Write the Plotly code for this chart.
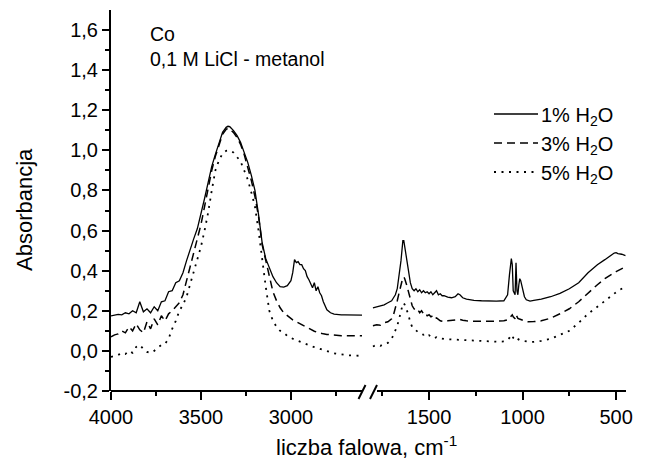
import plotly.graph_objects as go

# ---------------- data ----------------
wn_left = [4000, 3980, 3960, 3940, 3920, 3900, 3880, 3860, 3840, 3820, 3800, 3780, 3760, 3740,
           3720, 3700, 3680, 3660, 3640, 3620, 3600, 3580, 3560, 3540, 3520, 3500, 3480, 3460,
           3440, 3420, 3400, 3380, 3360, 3350, 3340, 3320, 3300, 3280, 3260, 3240, 3220, 3200,
           3180, 3160, 3140, 3120, 3100, 3080, 3060, 3040, 3020, 3000, 2990, 2980, 2970, 2960,
           2950, 2940, 2930, 2920, 2910, 2900, 2890, 2880, 2870, 2860, 2850, 2840, 2830, 2820,
           2800, 2780, 2760, 2740, 2720, 2700, 2680, 2660, 2640, 2620, 2600]

abs1_left = [0.175, 0.178, 0.182, 0.180, 0.190, 0.185, 0.200, 0.190, 0.245, 0.195, 0.210, 0.190, 0.220, 0.200,
             0.245, 0.250, 0.295, 0.300, 0.340, 0.350, 0.390, 0.450, 0.510, 0.560, 0.610, 0.680, 0.760, 0.840,
             0.920, 0.980, 1.040, 1.090, 1.115, 1.120, 1.118, 1.100, 1.075, 1.040, 0.990, 0.940, 0.875, 0.800,
             0.680, 0.540, 0.460, 0.410, 0.370, 0.340, 0.320, 0.318, 0.325, 0.350, 0.390, 0.455, 0.440, 0.445,
             0.430, 0.430, 0.410, 0.400, 0.370, 0.355, 0.335, 0.315, 0.340, 0.300, 0.320, 0.290, 0.275, 0.245,
             0.205, 0.190, 0.183, 0.180, 0.180, 0.180, 0.179, 0.178, 0.178, 0.178, 0.178]

abs3_left = [0.070, 0.080, 0.085, 0.100, 0.090, 0.120, 0.100, 0.135, 0.105, 0.090, 0.145, 0.110, 0.160, 0.130,
             0.175, 0.150, 0.185, 0.200, 0.220, 0.240, 0.280, 0.350, 0.420, 0.500, 0.560, 0.630, 0.720, 0.810,
             0.900, 0.970, 1.030, 1.080, 1.105, 1.110, 1.105, 1.090, 1.065, 1.030, 0.980, 0.920, 0.850, 0.770,
             0.670, 0.530, 0.450, 0.370, 0.295, 0.250, 0.215, 0.190, 0.175, 0.160, 0.155, 0.150, 0.145, 0.140,
             0.135, 0.130, 0.125, 0.120, 0.115, 0.110, 0.105, 0.100, 0.098, 0.095, 0.092, 0.090, 0.088, 0.085,
             0.082, 0.080, 0.078, 0.077, 0.076, 0.076, 0.076, 0.075, 0.075, 0.075, 0.075]

abs5_left = [-0.030, -0.025, -0.020, -0.010, -0.015, 0.000, -0.010, 0.020, 0.030, 0.010, -0.005, -0.010, 0.000, 0.015,
             0.030, 0.035, 0.060, 0.110, 0.150, 0.200, 0.230, 0.270, 0.330, 0.400, 0.460, 0.520, 0.600, 0.690,
             0.800, 0.900, 0.950, 0.985, 0.998, 1.000, 1.000, 0.990, 0.970, 0.945, 0.900, 0.855, 0.790, 0.720,
             0.600, 0.450, 0.320, 0.200, 0.150, 0.120, 0.100, 0.090, 0.075, 0.065, 0.060, 0.057, 0.053, 0.050,
             0.046, 0.042, 0.038, 0.035, 0.032, 0.028, 0.025, 0.022, 0.019, 0.016, 0.013, 0.010, 0.007, 0.004,
             -0.003, -0.008, -0.012, -0.015, -0.018, -0.020, -0.022, -0.023, -0.024, -0.025, -0.025]

wn_right = [1800, 1780, 1760, 1740, 1720, 1700, 1690, 1680, 1670, 1660, 1650, 1645, 1640, 1635, 1630,
            1620, 1610, 1600, 1590, 1580, 1570, 1560, 1550, 1540, 1530, 1520, 1510, 1500, 1490, 1480,
            1470, 1460, 1450, 1440, 1430, 1420, 1400, 1380, 1360, 1345, 1335, 1320, 1300, 1260, 1220,
            1180, 1140, 1100, 1080, 1070, 1060, 1055, 1050, 1040, 1035, 1030, 1025, 1020, 1015, 1010,
            1000, 990, 980, 970, 960, 940, 900, 850, 800, 750, 700, 650, 600, 560, 530, 510, 500, 490,
            470, 450]

abs1_right = [0.215, 0.220, 0.225, 0.230, 0.240, 0.250, 0.265, 0.280, 0.310, 0.370, 0.450, 0.500, 0.550, 0.550, 0.520,
              0.470, 0.400, 0.340, 0.310, 0.300, 0.310, 0.295, 0.305, 0.290, 0.300, 0.290, 0.295, 0.285, 0.295, 0.280,
              0.290, 0.300, 0.280, 0.285, 0.275, 0.275, 0.268, 0.265, 0.270, 0.285, 0.280, 0.265, 0.258, 0.252, 0.250,
              0.248, 0.248, 0.250, 0.280, 0.380, 0.460, 0.430, 0.300, 0.280, 0.440, 0.300, 0.280, 0.330, 0.360, 0.350,
              0.300, 0.270, 0.255, 0.250, 0.248, 0.252, 0.258, 0.270, 0.287, 0.310, 0.340, 0.390, 0.430, 0.455, 0.475,
              0.488, 0.490, 0.485, 0.482, 0.475]

abs3_right = [0.125, 0.130, 0.128, 0.140, 0.145, 0.160, 0.180, 0.210, 0.250, 0.290, 0.335, 0.355, 0.365, 0.368, 0.360,
              0.330, 0.290, 0.250, 0.225, 0.210, 0.200, 0.205, 0.190, 0.200, 0.185, 0.190, 0.175, 0.180, 0.170, 0.175,
              0.160, 0.165, 0.155, 0.150, 0.148, 0.146, 0.150, 0.152, 0.155, 0.158, 0.157, 0.153, 0.150, 0.148, 0.147,
              0.147, 0.148, 0.150, 0.155, 0.163, 0.175, 0.180, 0.170, 0.160, 0.180, 0.170, 0.162, 0.160, 0.158, 0.155,
              0.150, 0.148, 0.146, 0.145, 0.145, 0.146, 0.150, 0.163, 0.185, 0.210, 0.245, 0.290, 0.330, 0.360, 0.380,
              0.390, 0.395, 0.400, 0.410, 0.420]

abs5_right = [0.022, 0.030, 0.025, 0.035, 0.040, 0.060, 0.080, 0.100, 0.125, 0.160, 0.200, 0.220, 0.235, 0.238, 0.230,
              0.205, 0.180, 0.140, 0.120, 0.110, 0.100, 0.095, 0.090, 0.085, 0.080, 0.085, 0.075, 0.078, 0.070, 0.072,
              0.065, 0.068, 0.062, 0.063, 0.060, 0.060, 0.058, 0.057, 0.056, 0.056, 0.055, 0.054, 0.053, 0.050, 0.048,
              0.047, 0.046, 0.047, 0.055, 0.065, 0.080, 0.078, 0.065, 0.060, 0.068, 0.062, 0.058, 0.056, 0.054, 0.052,
              0.050, 0.048, 0.047, 0.046, 0.045, 0.045, 0.050, 0.060, 0.078, 0.100, 0.140, 0.185, 0.220, 0.250, 0.270,
              0.285, 0.292, 0.300, 0.310, 0.320]

series_names = ["1% H<sub>2</sub>O", "3% H<sub>2</sub>O", "5% H<sub>2</sub>O"]

x_ticks_left = [4000, 3500, 3000]
x_minor_left = [3750, 3250, 2750]
x_ticks_right = [1500, 1000, 500]
x_minor_right = [1750, 1250, 750]
y_ticks = [-0.2, 0.0, 0.2, 0.4, 0.6, 0.8, 1.0, 1.2, 1.4, 1.6]
y_ticktext = ["-0,2", "0,0", "0,2", "0,4", "0,6", "0,8", "1,0", "1,2", "1,4", "1,6"]
y_minor = [-0.1, 0.1, 0.3, 0.5, 0.7, 0.9, 1.1, 1.3, 1.5]

# ---------------- styles ----------------
FONT = "Arial, Liberation Sans, sans-serif"
dashes = ["solid", "8px,5px", "2px,5.5px"]
widths = [1.3, 1.5, 1.8]

left_vals = [abs1_left, abs3_left, abs5_left]
right_vals = [abs1_right, abs3_right, abs5_right]

fig = go.Figure()
for i in range(3):
    fig.add_trace(go.Scatter(x=wn_left, y=left_vals[i], mode="lines", xaxis="x", yaxis="y",
                             line=dict(color="black", width=widths[i], dash=dashes[i]),
                             name=series_names[i], showlegend=False, hoverinfo="skip"))
    fig.add_trace(go.Scatter(x=wn_right, y=right_vals[i], mode="lines", xaxis="x2", yaxis="y",
                             line=dict(color="black", width=widths[i], dash=dashes[i]),
                             name=series_names[i], showlegend=False, hoverinfo="skip"))

# page has an 8px body margin: figure placed at (8, 8)
OFF = 8
PL, PT, PR, PB = 111, 10, 626, 391          # plot area in page pixels
W, H = 639, 457                              # figure size
L, T = PL - OFF, PT - OFF
R = W - L - (PR - PL)
B = H - T - (PB - PT)
pw = PR - PL
ph = PB - PT


def px(x):
    return (x - PL) / pw


def py(y):
    return (PB - y) / ph


left_end = px(362)
right_start = px(372)

common_x = dict(showgrid=False, zeroline=False, showline=False, ticks="outside", ticklen=8,
                tickwidth=1.6, tickcolor="black", tickfont=dict(family=FONT, size=20, color="black"),
                ticklabelstandoff=0, tickmode="array", anchor="y", fixedrange=True)

fig.update_layout(
    width=W, height=H,
    margin=dict(l=L, r=R, t=T, b=B),
    paper_bgcolor="white", plot_bgcolor="white",
    showlegend=False,
    xaxis=dict(domain=[0, left_end], range=[4000, 2605], tickvals=x_ticks_left,
               ticktext=[str(v) for v in x_ticks_left],
               minor=dict(tickvals=x_minor_left, ticks="outside", ticklen=4, tickwidth=1.6, tickcolor="black"),
               **common_x),
    xaxis2=dict(domain=[right_start, 1], range=[1805, 447], tickvals=x_ticks_right,
                ticktext=[str(v) for v in x_ticks_right],
                minor=dict(tickvals=x_minor_right, ticks="outside", ticklen=4, tickwidth=1.6, tickcolor="black"),
                **common_x),
    yaxis=dict(domain=[0, 1], range=[-0.2, 1.7], tickmode="array", tickvals=y_ticks, ticktext=y_ticktext,
               showgrid=False, zeroline=False, showline=True, linewidth=2, linecolor="black",
               ticks="outside", ticklen=7, tickwidth=1.6, tickcolor="black",
               tickfont=dict(family=FONT, size=20, color="black"),
               minor=dict(tickvals=y_minor, ticks="outside", ticklen=4, tickwidth=1.6, tickcolor="black"),
               fixedrange=True),
)

shapes = []
# x axis line segments (broken axis)
shapes.append(dict(type="line", xref="paper", yref="paper", x0=0, x1=left_end, y0=0, y1=0,
                   line=dict(color="black", width=2)))
shapes.append(dict(type="line", xref="paper", yref="paper", x0=px(377), x1=1, y0=0, y1=0,
                   line=dict(color="black", width=2)))
# break marks
for x0p in (358.5, 370):
    shapes.append(dict(type="line", xref="paper", yref="paper", x0=px(x0p), y0=py(399), x1=px(x0p + 7), y1=py(385),
                       line=dict(color="black", width=2)))

# legend samples
legend_rows = [114, 143, 172]
for i, yrow in enumerate(legend_rows):
    shapes.append(dict(type="line", xref="paper", yref="paper", x0=px(494), x1=px(538), y0=py(yrow), y1=py(yrow),
                       line=dict(color="black", width=widths[i], dash=dashes[i])))
fig.update_layout(shapes=shapes)

annotations = []
for i, yrow in enumerate(legend_rows):
    annotations.append(dict(xref="paper", yref="paper", x=px(539), y=py(yrow + 2), xanchor="left", yanchor="middle",
                            text=series_names[i], showarrow=False,
                            font=dict(family=FONT, size=20, color="black")))
annotations.append(dict(xref="paper", yref="paper", x=px(148), y=py(34), xanchor="left", yanchor="middle",
                        text="Co", showarrow=False, font=dict(family=FONT, size=19.5, color="black")))
annotations.append(dict(xref="paper", yref="paper", x=px(148), y=py(59), xanchor="left", yanchor="middle",
                        text="0,1 M LiCl - metanol", showarrow=False, font=dict(family=FONT, size=19.5, color="black")))
annotations.append(dict(xref="paper", yref="paper", x=px(24), y=py(210), xanchor="center", yanchor="middle",
                        text="Absorbancja", textangle=-90, showarrow=False,
                        font=dict(family=FONT, size=22, color="black")))
annotations.append(dict(xref="paper", yref="paper", x=px(366), y=py(446), xanchor="center", yanchor="middle",
                        text="liczba falowa, cm<sup>-1</sup>", showarrow=False,
                        font=dict(family=FONT, size=22, color="black")))
fig.update_layout(annotations=annotations)

fig.write_html("out.html")
